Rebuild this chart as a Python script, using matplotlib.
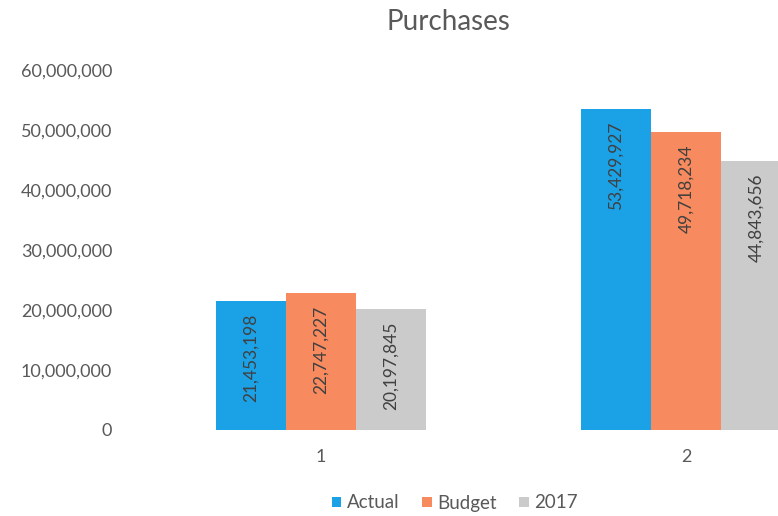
import matplotlib.pyplot as plt
import numpy as np
from matplotlib.ticker import FuncFormatter

plt.rcParams['font.family'] = ['Lato', 'DejaVu Sans']

categories = ["1", "2"]
series = ["Actual", "Budget", "2017"]
actual = [21453198, 53429927]
budget = [22747227, 49718234]
prior = [20197845, 44843656]
colors = ["#1ba1e6", "#f78a5e", "#cbcbcb"]

fig = plt.figure(figsize=(7.78, 5.16), dpi=100)
ax = fig.add_axes([0.178, 0.1667, 0.822, 0.698])

x = np.arange(len(categories))
w = 70 / 365
for i, (name, vals) in enumerate(zip(series, [actual, budget, prior])):
	bars = ax.bar(x + (i - 1) * w, vals, w * 0.99, color=colors[i], label=name)
	for b, v in zip(bars, vals):
		ax.annotate(f"{v:,}", (b.get_x() + b.get_width() / 2, v),
			xytext=(0, -9), textcoords="offset points",
			rotation=90, ha="center", va="top", fontsize=12.5, color="#404040")

ax.set_xlim(-0.5, 1.252)
ax.set_ylim(0, 60000000)
ax.set_yticks(np.arange(0, 60000001, 10000000))
ax.yaxis.set_major_formatter(FuncFormatter(lambda v, p: f"{int(v):,}"))
ax.set_xticks(x)
ax.set_xticklabels(categories)
ax.tick_params(length=0, labelsize=13, colors="#595959")
ax.tick_params(axis="y", pad=19)
ax.tick_params(axis="x", pad=14)
for s in ax.spines.values():
	s.set_visible(False)

fig.text(448 / 778, 1 - 22 / 516, "Purchases", ha="center", va="center",
	fontsize=20, color="#595959")

fig.legend(loc="center", bbox_to_anchor=(455 / 778, 1 - 503 / 516), ncol=3,
	frameon=False, fontsize=13.5, handlelength=0.5, handleheight=0.5,
	handletextpad=0.3, columnspacing=1.2, labelcolor="#595959")

fig.savefig("out.png", dpi=100)
